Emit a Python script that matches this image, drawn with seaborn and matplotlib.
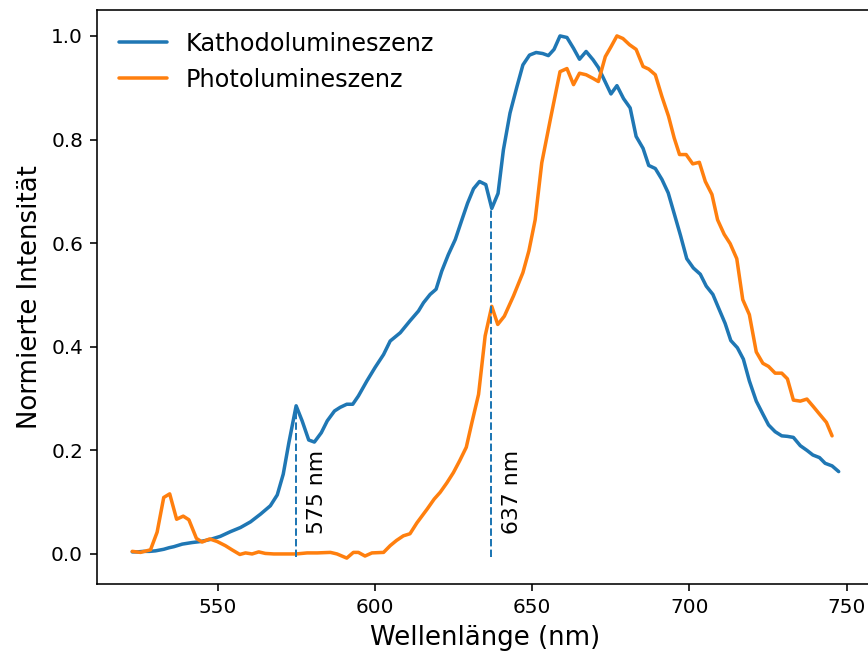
import matplotlib
matplotlib.use("Agg")
import matplotlib.pyplot as plt
import seaborn as sns

# Kathodolumineszenz (CL)
cl_nm = [522.9, 524.6, 526.5, 528.4, 530.3, 532.9, 534.6, 536.1, 538.8, 541.9,
         544.6, 547.7, 550.9, 554.1, 557.3, 560.5, 563.7, 566.8, 569.0, 570.9,
         572.7, 575.0, 576.9, 579.0, 580.8, 583.0, 584.9, 587.2, 589.0, 591.1,
         593.0, 594.8, 597.5, 600.1, 602.8, 604.9, 608.1, 611.2, 613.9, 615.5,
         617.6, 619.5, 621.3, 623.4, 625.6, 627.7, 629.5, 631.4, 633.3, 635.3,
         637.2, 639.2, 640.9, 643.0, 645.2, 647.1, 649.2, 651.3, 653.4, 655.2,
         657.0, 658.9, 661.1, 663.2, 665.1, 667.2, 669.4, 671.1, 672.9, 675.1,
         677.0, 679.1, 681.2, 683.1, 685.3, 687.1, 689.2, 691.3, 693.3, 695.3,
         697.2, 699.2, 701.3, 703.5, 705.4, 707.5, 709.3, 711.4, 713.2, 715.3,
         717.2, 719.1, 721.3, 723.4, 725.2, 727.3, 729.4, 731.2, 733.1, 735.3,
         737.4, 739.3, 741.4, 743.2, 745.4, 747.5]
cl_val = [0.004, 0.004, 0.005, 0.005, 0.006, 0.009, 0.012, 0.014, 0.019, 0.022,
          0.024, 0.028, 0.034, 0.043, 0.051, 0.062, 0.077, 0.093, 0.114, 0.154,
          0.215, 0.286, 0.257, 0.220, 0.216, 0.234, 0.257, 0.276, 0.283, 0.289,
          0.289, 0.305, 0.334, 0.360, 0.385, 0.411, 0.427, 0.450, 0.469, 0.485,
          0.501, 0.511, 0.546, 0.578, 0.607, 0.645, 0.677, 0.705, 0.719, 0.713,
          0.667, 0.696, 0.780, 0.851, 0.902, 0.944, 0.963, 0.968, 0.966, 0.962,
          0.974, 1.000, 0.997, 0.976, 0.955, 0.970, 0.954, 0.939, 0.916, 0.888,
          0.904, 0.879, 0.861, 0.806, 0.783, 0.750, 0.744, 0.723, 0.697, 0.655,
          0.615, 0.570, 0.552, 0.540, 0.517, 0.501, 0.475, 0.445, 0.412, 0.398,
          0.376, 0.334, 0.295, 0.270, 0.249, 0.236, 0.228, 0.227, 0.225, 0.209,
          0.200, 0.191, 0.186, 0.175, 0.170, 0.159]

# Photolumineszenz (PL)
pl_nm = [522.9, 525.5, 528.7, 530.8, 532.9, 534.8, 537.0, 539.1, 540.9, 543.3,
         545.1, 547.5, 549.9, 552.5, 554.6, 557.1, 558.9, 561.0, 563.1, 565.2,
         567.9, 571.1, 575.0, 578.5, 581.7, 585.9, 588.0, 591.1, 593.2, 594.8,
         596.9, 599.1, 602.8, 604.9, 606.9, 609.1, 611.2, 613.4, 616.7, 618.9,
         620.8, 622.9, 625.0, 627.0, 629.1, 630.9, 633.0, 635.1, 637.2, 639.1,
         641.2, 644.1, 647.1, 649.0, 651.0, 653.1, 655.8, 658.9, 661.1, 663.2,
         665.1, 667.2, 669.4, 671.1, 673.3, 675.1, 677.0, 678.9, 681.0, 683.1,
         685.3, 687.1, 689.2, 691.3, 693.4, 695.2, 696.9, 699.0, 701.1, 703.2,
         705.1, 707.2, 709.0, 711.1, 713.0, 715.1, 717.0, 719.1, 721.3, 723.4,
         725.2, 727.3, 729.4, 731.2, 733.1, 735.3, 737.4, 739.5, 741.4, 743.6,
         745.4]
pl_val = [0.005, 0.003, 0.008, 0.042, 0.109, 0.116, 0.067, 0.073, 0.066, 0.030,
          0.023, 0.029, 0.024, 0.016, 0.008, -0.001, 0.002, 0.000, 0.004, 0.001,
          0.000, 0.000, 0.000, 0.002, 0.002, 0.003, 0.000, -0.008, 0.003, 0.003,
          -0.004, 0.002, 0.003, 0.016, 0.026, 0.035, 0.039, 0.060, 0.087, 0.106,
          0.119, 0.137, 0.157, 0.180, 0.206, 0.254, 0.308, 0.421, 0.478, 0.443,
          0.459, 0.498, 0.543, 0.585, 0.645, 0.755, 0.838, 0.931, 0.937, 0.906,
          0.928, 0.925, 0.918, 0.912, 0.960, 0.979, 1.000, 0.995, 0.983, 0.974,
          0.941, 0.936, 0.925, 0.883, 0.845, 0.803, 0.771, 0.771, 0.753, 0.756,
          0.719, 0.694, 0.645, 0.617, 0.599, 0.570, 0.491, 0.462, 0.390, 0.368,
          0.362, 0.349, 0.349, 0.338, 0.297, 0.295, 0.299, 0.284, 0.270, 0.254,
          0.228]

# markierte Peaks
peak_nm = [575, 637]
peak_top = [0.286, 0.667]
peak_labels = ["575 nm", "637 nm"]

sns.set_style("ticks", {"axes.edgecolor": "black", "text.color": "black",
                        "axes.labelcolor": "black", "xtick.color": "black",
                        "ytick.color": "black"})
plt.rcParams['font.family'] = ['DejaVu Sans']

fig = plt.figure(figsize=(868 / 144, 655 / 144), dpi=144)
ax = fig.add_axes([0.1118, 0.1084, 0.895, 0.8763])

sns.lineplot(x=cl_nm, y=cl_val, ax=ax, color="C0", lw=1.75, estimator=None,
             label="Kathodolumineszenz")
sns.lineplot(x=pl_nm, y=pl_val, ax=ax, color="C1", lw=1.75, estimator=None,
             label="Photolumineszenz")

ax.vlines(peak_nm, -0.006, peak_top, colors="C0", linestyles="--", lw=1)
for nm, lab in zip(peak_nm, peak_labels):
    ax.text(nm + 3.4, 0.038, lab, rotation=90, fontsize=11,
            ha="left", va="bottom")

ax.set_xlim(511.7, 758.7)
ax.set_ylim(-0.058, 1.05)
ax.set_xlabel("Wellenlänge (nm)", fontsize=13)
ax.set_ylabel("Normierte Intensität", fontsize=13)
ax.tick_params(labelsize=10)
ax.legend(loc="upper left", frameon=False, fontsize=12)

fig.savefig("out.png", dpi=144)
